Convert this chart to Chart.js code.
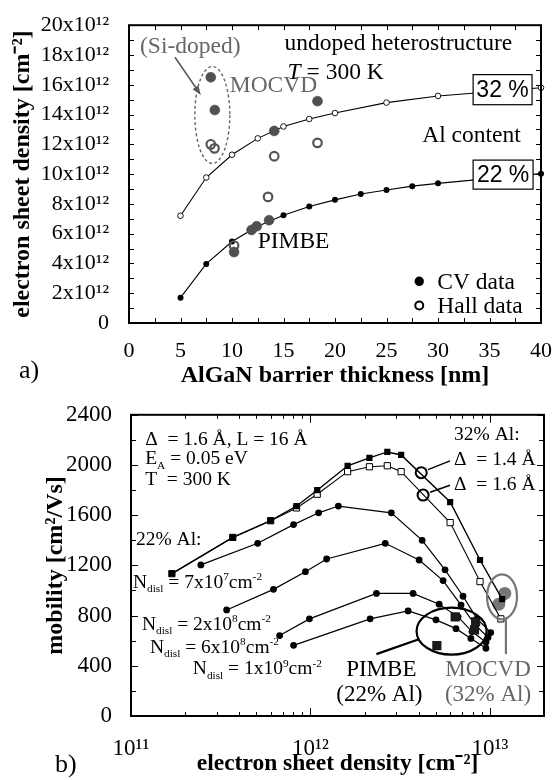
<!DOCTYPE html>
<html><head><meta charset="utf-8">
<script src="https://cdn.jsdelivr.net/npm/chart.js@4.4.1/dist/chart.umd.min.js"></script>
<style>
html,body{margin:0;padding:0;background:#fff;}
#wrap{position:relative;width:559px;height:780px;overflow:hidden;background:#fff;}
canvas{position:absolute;left:0;}
#ca{top:0;} #cb{top:390px;}
</style></head><body>
<div id="wrap"><canvas id="ca" width="559" height="390"></canvas><canvas id="cb" width="559" height="390"></canvas></div>
<script>
// ---------- Panel a data (AlGaN barrier thickness [nm] vs sheet density [10^12 cm^-2]) ----------
const al32Thickness = [5, 7.5, 10, 12.5, 15, 17.5, 20, 25, 30, 40];
const al32Density   = [7.2, 9.77, 11.3, 12.4, 13.2, 13.7, 14.1, 14.8, 15.25, 15.8];
const al22Thickness = [5, 7.5, 10, 12.5, 15, 17.5, 20, 22.5, 25, 27.5, 30, 40];
const al22Density   = [1.7, 3.97, 5.47, 6.5, 7.23, 7.82, 8.27, 8.66, 8.93, 9.19, 9.38, 10.03];
const cvThickness   = [7.94, 8.33, 14.1, 18.3, 10.2, 11.9, 12.4, 13.6];
const cvDensity     = [16.5, 14.3, 12.9, 14.9, 4.76, 6.25, 6.5, 6.9];
const hallThickness = [7.94, 8.3, 14.1, 18.3, 13.5, 10.2];
const hallDensity   = [12.0, 11.73, 11.2, 12.1, 8.47, 5.2];
const aYTicks = [0, 2, 4, 6, 8, 10, 12, 14, 16, 18, 20];
const aXTicks = [0, 5, 10, 15, 20, 25, 30, 35, 40];

// ---------- Panel b data (electron sheet density [cm^-2] vs mobility [cm^2/Vs]) ----------
const sq14Density  = [1.69e11, 3.69e11, 6.0e11, 8.36e11, 1.09e12, 1.61e12, 2.13e12, 2.68e12, 3.2e12, 6.0e12, 8.8e12, 1.17e13];
const sq14Mobility = [1134, 1423, 1556, 1673, 1799, 1994, 2057, 2104, 2080, 1705, 1243, 931];
const sq16Density  = [1.69e11, 3.69e11, 6.0e11, 8.36e11, 1.09e12, 1.61e12, 2.13e12, 2.68e12, 3.2e12, 6.0e12, 8.8e12, 1.15e13];
const sq16Mobility = [1134, 1423, 1556, 1658, 1767, 1947, 1986, 1994, 1947, 1541, 1071, 774];
const n7e7Density  = [2.45e11, 5.08e11, 8.05e11, 1.11e12, 1.43e12, 2.82e12, 4.19e12, 5.62e12, 7.08e12, 8.47e12, 1.01e13];
const n7e7Mobility = [1204, 1376, 1525, 1619, 1673, 1619, 1400, 1165, 954, 774, 665];
const n2e8Density  = [3.41e11, 6.22e11, 9.37e11, 1.23e12, 2.61e12, 4.03e12, 5.48e12, 6.9e12, 8.26e12, 9.75e12];
const n2e8Mobility = [845, 1009, 1150, 1251, 1376, 1243, 1079, 884, 727, 626];
const n6e8Density  = [6.73e11, 9.87e11, 2.33e12, 3.73e12, 5.21e12, 6.64e12, 7.94e12, 9.5e12];
const n6e8Mobility = [641, 774, 977, 977, 891, 790, 673, 587];
const n1e9Density  = [8.05e11, 2.15e12, 3.5e12, 5.0e12, 6.47e12, 7.83e12, 9.5e12];
const n1e9Mobility = [563, 774, 837, 766, 696, 618, 540];
const pimbeDensity  = [5.06e12, 6.4e12, 8.32e12, 8.2e12];
const pimbeMobility = [561, 790, 751, 686];
const mocvdDensity  = [1.12e13, 1.21e13];
const mocvdMobility = [891, 977];
const bYTicks = [0, 400, 800, 1200, 1600, 2000, 2400];

// ---------- helpers ----------
const FAM = "'Liberation Serif','Times New Roman',serif";
const SANS = "'Liberation Sans',Arial,sans-serif";
const SUPMAP = {'0':'⁰','1':'¹','2':'²','3':'³','4':'⁴','5':'⁵','6':'⁶','7':'⁷','8':'⁸','9':'⁹','-':'⁻'};
const sup = s => String(s).split('').map(c => SUPMAP[c] || c).join('');
const pts = (xs, ys) => xs.map((x, i) => ({x, y: ys[i]}));

function rich(ctx, parts, x, y, size, color, align) {
  let w = 0;
  const items = parts.map(p => {
    const [t, ty] = Array.isArray(p) ? p : [p, ''];
    const s = (ty === 'sup' || ty === 'sub') ? size * 0.58 : size;
    const f = (ty === 'i' ? 'italic ' : '') + s + 'px ' + FAM;
    ctx.font = f;
    const mw = ctx.measureText(t).width;
    w += mw;
    return {t, ty, f, mw};
  });
  let cx = align === 'center' ? x - w / 2 : (align === 'right' ? x - w : x);
  ctx.save();
  ctx.fillStyle = color; ctx.textBaseline = 'alphabetic'; ctx.textAlign = 'left';
  const base = y + size * 0.33;
  for (const it of items) {
    ctx.font = it.f;
    const dy = it.ty === 'sup' ? -size * 0.4 : (it.ty === 'sub' ? size * 0.22 : 0);
    ctx.fillText(it.t, cx, base + dy);
    cx += it.mw;
  }
  ctx.restore();
}
function line(ctx, x1, y1, x2, y2) { ctx.beginPath(); ctx.moveTo(x1, y1); ctx.lineTo(x2, y2); ctx.stroke(); }
function frameTicks(chart, xv, yv) {
  const {ctx, chartArea: a, scales: {x, y}} = chart;
  ctx.save();
  ctx.strokeStyle = '#000'; ctx.lineWidth = 1;
  xv.forEach(([v, len]) => {
    const p = Math.round(x.getPixelForValue(v)) + 0.5;
    line(ctx, p, a.bottom, p, a.bottom - len); line(ctx, p, a.top, p, a.top + len);
  });
  yv.forEach(([v, len]) => {
    const p = Math.round(y.getPixelForValue(v)) + 0.5;
    line(ctx, a.left, p, a.left + len, p); line(ctx, a.right, p, a.right - len, p);
  });
  ctx.lineWidth = 2;
  ctx.strokeRect(a.left, a.top, a.right - a.left, a.bottom - a.top);
  ctx.restore();
}
const tickFont = s => ({family: FAM, size: s});
const titleFont = s => ({family: FAM, size: s, weight: 'bold'});

// ---------- Panel a ----------
const annotA = {
  id: 'annotA',
  afterDraw(chart) {
    const {ctx, scales: {x, y}} = chart;
    const X = v => x.getPixelForValue(v), Y = v => y.getPixelForValue(v);
    frameTicks(chart, x.ticks.map(t => [t.value, 5]), y.ticks.map(t => [t.value, 5]));
    ctx.save();
    // Si-doped group
    rich(ctx, ['(Si-doped)'], X(1.07), Y(18.63), 23.5, '#666', 'left');
    ctx.strokeStyle = '#555'; ctx.fillStyle = '#555'; ctx.lineWidth = 1.5;
    const x1 = X(4.46), y1 = Y(17.85), x2 = X(6.97), y2 = Y(15.31);
    line(ctx, x1, y1, x2 - 3, y2 - 4.5);
    const ang = Math.atan2(y2 - y1, x2 - x1);
    ctx.beginPath(); ctx.moveTo(x2, y2);
    ctx.lineTo(x2 - 10 * Math.cos(ang - 0.35), y2 - 10 * Math.sin(ang - 0.35));
    ctx.lineTo(x2 - 10 * Math.cos(ang + 0.35), y2 - 10 * Math.sin(ang + 0.35));
    ctx.closePath(); ctx.fill();
    ctx.setLineDash([3, 2.5]); ctx.strokeStyle = '#666'; ctx.lineWidth = 1.4;
    ctx.beginPath(); ctx.ellipse(X(8.09), Y(13.97), 17.5, 48.5, 0, 0, Math.PI * 2); ctx.stroke();
    ctx.setLineDash([]);
    rich(ctx, ['MOCVD'], X(9.78), Y(16.03), 23.5, '#666', 'left');
    rich(ctx, ['undoped heterostructure'], X(15.1), Y(18.83), 23.5, '#000', 'left');
    rich(ctx, [['T', 'i'], ' = 300 K'], X(15.4), Y(16.94), 23.5, '#000', 'left');
    rich(ctx, ['Al content'], X(28.47), Y(12.7), 23.5, '#000', 'left');
    rich(ctx, ['PIMBE'], X(12.49), Y(5.54), 23.5, '#000', 'left');
    // boxes
    ctx.lineWidth = 1.2; ctx.strokeStyle = '#000';
    [[33.41, 39.13, 16.68, 14.66, '32 %'], [33.41, 39.23, 10.94, 8.99, '22 %']].forEach(([xa, xb, ya, yb, t]) => {
      const l = X(xa), r = X(xb), tp = Y(ya), bt = Y(yb);
      ctx.fillStyle = '#fff'; ctx.fillRect(l, tp, r - l, bt - tp); ctx.strokeRect(l, tp, r - l, bt - tp);
      ctx.fillStyle = '#000'; ctx.font = '23px ' + SANS; ctx.textAlign = 'center'; ctx.textBaseline = 'middle';
      ctx.fillText(t, (l + r) / 2, (tp + bt) / 2 + 1);
    });
    // legend
    ctx.fillStyle = '#000';
    ctx.beginPath(); ctx.arc(X(28.18), Y(2.8), 4.7, 0, Math.PI * 2); ctx.fill();
    ctx.lineWidth = 2; ctx.beginPath(); ctx.arc(X(28.18), Y(1.17), 4.0, 0, Math.PI * 2); ctx.stroke();
    rich(ctx, ['CV data'], X(29.93), Y(2.8), 23.5, '#000', 'left');
    rich(ctx, ['Hall data'], X(29.93), Y(1.17), 23.5, '#000', 'left');
    // panel letter
    rich(ctx, ['a)'], 19, 369, 26, '#000', 'left');
    ctx.restore();
  }
};

new Chart(document.getElementById('ca'), {
  type: 'scatter',
  data: {datasets: [
    {label: 'CV data', data: pts(cvThickness, cvDensity), showLine: false, pointRadius: 5, pointBackgroundColor: '#505050', pointBorderColor: '#505050', pointBorderWidth: 0.5},
    {label: 'Hall data', data: pts(hallThickness, hallDensity), showLine: false, pointRadius: 4.3, pointBackgroundColor: 'rgba(255,255,255,0)', pointBorderColor: '#555', pointBorderWidth: 2.2},
    {label: '32 %', data: pts(al32Thickness, al32Density), showLine: true, borderColor: '#000', borderWidth: 1.1, tension: 0, pointRadius: 2.8, pointBackgroundColor: '#fff', pointBorderColor: '#000', pointBorderWidth: 0.9, clip: 5},
    {label: '22 %', data: pts(al22Thickness, al22Density), showLine: true, borderColor: '#000', borderWidth: 1.1, tension: 0, pointRadius: 3, pointBackgroundColor: '#000', pointBorderColor: '#000', pointBorderWidth: 0, clip: 5}
  ]},
  options: {
    responsive: false, animation: false, events: [],
    layout: {padding: {top: 16, right: 17, left: 0, bottom: 0}},
    plugins: {legend: {display: false}, tooltip: {enabled: false}},
    scales: {
      x: {type: 'linear', min: 0, max: 40,
        ticks: {stepSize: 2.5, autoSkip: false, maxRotation: 0, padding: 7, color: '#000', font: tickFont(22),
          callback: v => aXTicks.includes(v) ? String(v) : ''},
        grid: {display: false}, border: {display: false},
        title: {display: true, text: 'AlGaN barrier thickness [nm]', color: '#000', font: titleFont(24), padding: {top: 0, bottom: 0}},
        afterFit: s => { s.height = 67; }},
      y: {type: 'linear', min: 0, max: 20,
        ticks: {stepSize: 1, autoSkip: false, padding: 12, color: '#000', font: tickFont(22),
          callback: v => aYTicks.includes(v) ? (v === 0 ? '0' : v + 'x10' + sup(12)) : ''},
        grid: {display: false}, border: {display: false},
        title: {display: true, text: 'electron sheet density [cm' + sup('-2') + ']', color: '#000', font: titleFont(24), padding: {top: 8, bottom: 0}},
        afterFit: s => { s.width = 129; }}
    }
  },
  plugins: [annotA]
});

// ---------- Panel b ----------
const annotB = {
  id: 'annotB',
  afterDraw(chart) {
    const {ctx, scales: {x, y}} = chart;
    const X = v => x.getPixelForValue(v), Y = v => y.getPixelForValue(v);
    const xv = [];
    for (let e = 11; e <= 13; e++) for (let m = 1; m <= 9; m++) { const v = m * Math.pow(10, e); if (v <= 2e13) xv.push([v, m === 1 ? 8 : 4]); }
    const yv = [];
    for (let v = 0; v <= 2400; v += 200) yv.push([v, v % 400 === 0 ? 7 : 5]);
    frameTicks(chart, xv, yv);
    ctx.save();
    const S = 19.5;
    rich(ctx, ['Δ  = 1.6 Å, L = 16 Å'], X(1.2e11), Y(2213), S, '#000', 'left');
    rich(ctx, ['E', ['A', 'sub'], ' = 0.05 eV'], X(1.2e11), Y(2057), S, '#000', 'left');
    rich(ctx, ['T  = 300 K'], X(1.2e11), Y(1892), S, '#000', 'left');
    rich(ctx, ['22% Al:'], X(1.066e11), Y(1415), S, '#000', 'left');
    const nd = (c, e) => ['N', ['disl', 'sub'], ' = ' + c + 'x10', [String(e), 'sup'], 'cm', ['-2', 'sup']];
    rich(ctx, nd(7, 7), X(1.026e11), Y(1071), S, '#000', 'left');
    rich(ctx, nd(2, 8), X(1.15e11), Y(735), S, '#000', 'left');
    rich(ctx, nd(6, 8), X(1.275e11), Y(555), S, '#000', 'left');
    rich(ctx, nd(1, 9), X(2.21e11), Y(383), S, '#000', 'left');
    rich(ctx, ['32% Al:'], X(6.31e12), Y(2252), S, '#000', 'left');
    rich(ctx, ['Δ  = 1.4 Å'], X(6.31e12), Y(2049), S, '#000', 'left');
    rich(ctx, ['Δ  = 1.6 Å'], X(6.31e12), Y(1853), S, '#000', 'left');
    ctx.strokeStyle = '#000'; ctx.lineWidth = 1.5;
    line(ctx, X(4.52e12), Y(1963), X(5.99e12), Y(2033));
    line(ctx, X(4.64e12), Y(1783), X(5.99e12), Y(1838));
    ctx.lineWidth = 2;
    ctx.beginPath(); ctx.arc(X(4.14e12), Y(1939), 5.5, 0, Math.PI * 2); ctx.stroke();
    ctx.beginPath(); ctx.arc(X(4.24e12), Y(1760), 5.5, 0, Math.PI * 2); ctx.stroke();
    // PIMBE ellipse
    ctx.lineWidth = 2.2;
    ctx.beginPath(); ctx.ellipse(X(6.11e12), Y(676), 35, 23.5, 0, 0, Math.PI * 2); ctx.stroke();
    line(ctx, X(3.98e12), Y(610), X(2.33e12), Y(493));
    rich(ctx, ['PIMBE'], X(2.48e12), Y(383), 23, '#000', 'center');
    rich(ctx, ['(22% Al)'], X(2.42e12), Y(180), 23, '#000', 'center');
    // MOCVD ellipse
    ctx.strokeStyle = '#777';
    ctx.beginPath(); ctx.ellipse(X(1.167e13), Y(950), 15, 22.5, 0, 0, Math.PI * 2); ctx.stroke();
    line(ctx, X(1.227e13), Y(782), X(1.227e13), Y(493));
    rich(ctx, ['MOCVD'], X(9.75e12), Y(383), 23, '#666', 'center');
    rich(ctx, ['(32% Al)'], X(9.75e12), Y(180), 23, '#666', 'center');
    rich(ctx, ['b)'], 55, 373, 26, '#000', 'left');
    ctx.restore();
  }
};

const circ = (xs, ys, lbl) => ({label: lbl, data: pts(xs, ys), showLine: true, borderColor: '#000', borderWidth: 1.2, tension: 0, pointRadius: 3.4, pointBackgroundColor: '#000', pointBorderColor: '#000', pointBorderWidth: 0});
new Chart(document.getElementById('cb'), {
  type: 'scatter',
  data: {datasets: [
    {label: 'PIMBE', data: pts(pimbeDensity, pimbeMobility), showLine: false, pointStyle: 'rect', pointRadius: 6.5, pointBackgroundColor: '#1a1a1a', pointBorderColor: '#1a1a1a', pointBorderWidth: 0},
    {label: 'Δ = 1.4 Å', data: pts(sq14Density, sq14Mobility), showLine: true, borderColor: '#000', borderWidth: 1.4, tension: 0, pointStyle: 'rect', pointRadius: 4.4, pointBackgroundColor: '#000', pointBorderColor: '#000', pointBorderWidth: 0},
    {label: 'Δ = 1.6 Å', data: pts(sq16Density, sq16Mobility), showLine: true, borderColor: '#000', borderWidth: 1.1, tension: 0, pointStyle: 'rect', pointRadius: 4.4, pointBackgroundColor: '#fff', pointBorderColor: '#000', pointBorderWidth: 1},
    circ(n7e7Density, n7e7Mobility, 'Ndisl = 7x10^7'),
    circ(n2e8Density, n2e8Mobility, 'Ndisl = 2x10^8'),
    circ(n6e8Density, n6e8Mobility, 'Ndisl = 6x10^8'),
    circ(n1e9Density, n1e9Mobility, 'Ndisl = 1x10^9'),
    {label: 'MOCVD', data: pts(mocvdDensity, mocvdMobility), showLine: false, pointRadius: 6.5, pointBackgroundColor: '#777', pointBorderColor: '#777', pointBorderWidth: 0}
  ]},
  options: {
    responsive: false, animation: false, events: [],
    layout: {padding: {top: 19, right: 15, left: 0, bottom: 0}},
    plugins: {legend: {display: false}, tooltip: {enabled: false}},
    scales: {
      x: {type: 'logarithmic', min: 1e11, max: 2e13,
        ticks: {autoSkip: false, maxRotation: 0, padding: 11, color: '#000', font: tickFont(23),
          callback: v => { const e = Math.log10(v); return Math.abs(e - Math.round(e)) < 1e-9 ? '10' + sup(Math.round(e)) : ''; }},
        grid: {display: false}, border: {display: false},
        title: {display: true, text: 'electron sheet density [cm' + sup('-2') + ']', color: '#000', font: titleFont(23.5), padding: {top: 0, bottom: 2}},
        afterFit: s => { s.height = 64; }},
      y: {type: 'linear', min: 0, max: 2400,
        ticks: {stepSize: 200, autoSkip: false, padding: 11, color: '#000', font: tickFont(23),
          callback: v => bYTicks.includes(v) ? String(v) : ''},
        grid: {display: false}, border: {display: false},
        title: {display: true, text: 'mobility [cm' + sup(2) + '/Vs]', color: '#000', font: titleFont(24), padding: {top: 41, bottom: 0}},
        afterFit: s => { s.width = 131; }}
    }
  },
  plugins: [annotB]
});
</script>
</body></html>
